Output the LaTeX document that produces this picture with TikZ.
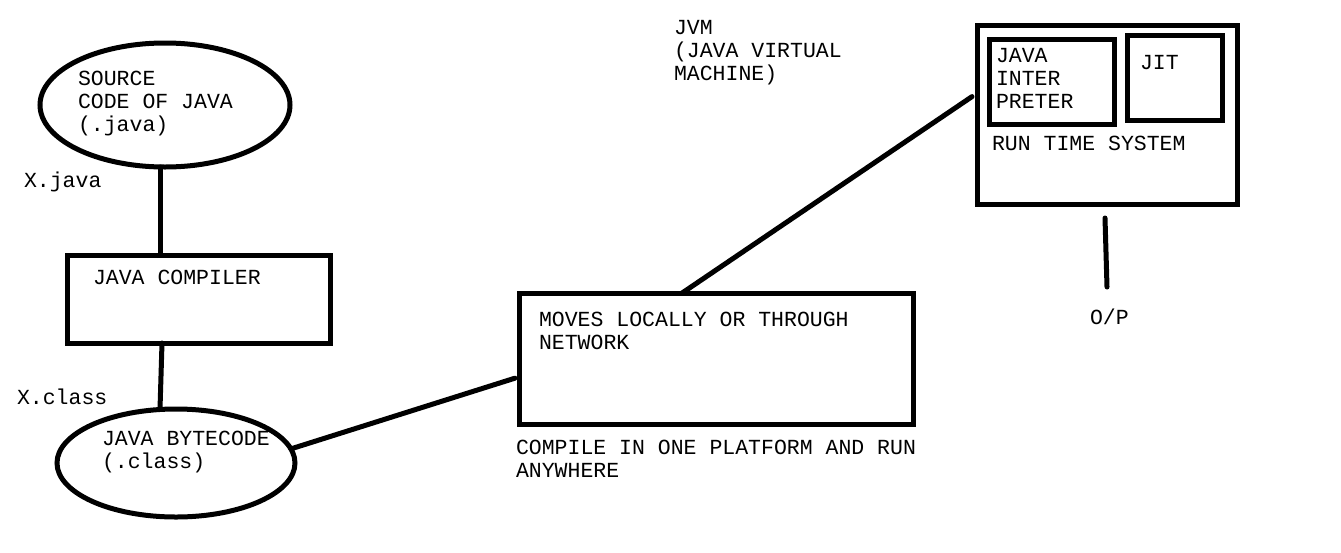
\documentclass[tikz,border=0pt]{standalone}
\usepackage{fontspec}
\setmainfont{Liberation Mono}
\usetikzlibrary{shapes.geometric,calc}
\tikzset{
  lbl/.style={font=\fontsize{21.5}{23}\selectfont, inner sep=0pt, outer sep=0pt, anchor=base west, align=left},
  boxn/.style={draw, line width=5pt, rectangle, inner sep=0pt, outer sep=0pt},
  elln/.style={draw, line width=5pt, ellipse, inner sep=0pt, outer sep=0pt},
  wire/.style={line width=5pt, line cap=round}
}
\begin{document}
\begin{tikzpicture}[x=1pt,y=-1pt]
\fill[white] (0,0) rectangle (1341,552);
\useasboundingbox (0,0) rectangle (1341,552);
% shapes
\node[elln, minimum width=250pt, minimum height=124pt] (src) at (165,105) {};
\node[boxn, minimum width=263pt, minimum height=88pt] (comp) at (198.5,299) {};
\node[elln, minimum width=238pt, minimum height=108pt] (bc) at (176,463) {};
\node[boxn, minimum width=394pt, minimum height=131pt] (mv) at (716,358.5) {};
\node[boxn, minimum width=260pt, minimum height=179pt] (jvm) at (1107,114.5) {};
\node[boxn, minimum width=125pt, minimum height=85pt] (interp) at (1052,81.5) {};
\node[boxn, minimum width=95pt, minimum height=85pt] (jit) at (1174.5,77.5) {};
% texts (anchored at the baseline of the last line)
\node[lbl] (tsrc) at (78,131) {SOURCE\\CODE OF JAVA\\(.java)};
\node[lbl] (txjava) at (24,187) {X.java};
\node[lbl] (tcomp) at (93,284) {JAVA COMPILER};
\node[lbl] (txclass) at (17,404) {X.class};
\node[lbl] (tbc) at (102,468) {JAVA BYTECODE\\(.class)};
\node[lbl] (tmv) at (539,349) {MOVES LOCALLY OR THROUGH\\NETWORK};
\node[lbl] (tcompile) at (516,477) {COMPILE IN ONE PLATFORM AND RUN\\ANYWHERE};
\node[lbl] (tjvm) at (674,80) {JVM\\(JAVA VIRTUAL\\MACHINE)};
\node[lbl] (tinterp) at (996,108) {JAVA\\INTER\\PRETER};
\node[lbl] (tjit) at (1140,69) {JIT};
\node[lbl] (trts) at (992,150) {RUN TIME SYSTEM};
\node[lbl] (top) at (1090,324) {O/P};
% connectors
\coordinate (axis) at (160,0);
\draw[wire] (src.south -| axis) -- (comp.north -| axis);
\draw[wire] ([xshift=2pt]comp.south -| axis) -- (bc.north -| axis);
\draw[wire] (bc.7.5) -- ($(mv.south west)!0.35!(mv.north west)+(-4,0)$);
\draw[wire] ($(mv.north west)!0.414!(mv.north east)$) -- ($(jvm.north west)!0.4!(jvm.south west)+(-5,0)$);
\draw[wire] ([yshift=-14pt,xshift=-2pt]jvm.south) -- ([yshift=-83pt]jvm.south);
\end{tikzpicture}
\end{document}
